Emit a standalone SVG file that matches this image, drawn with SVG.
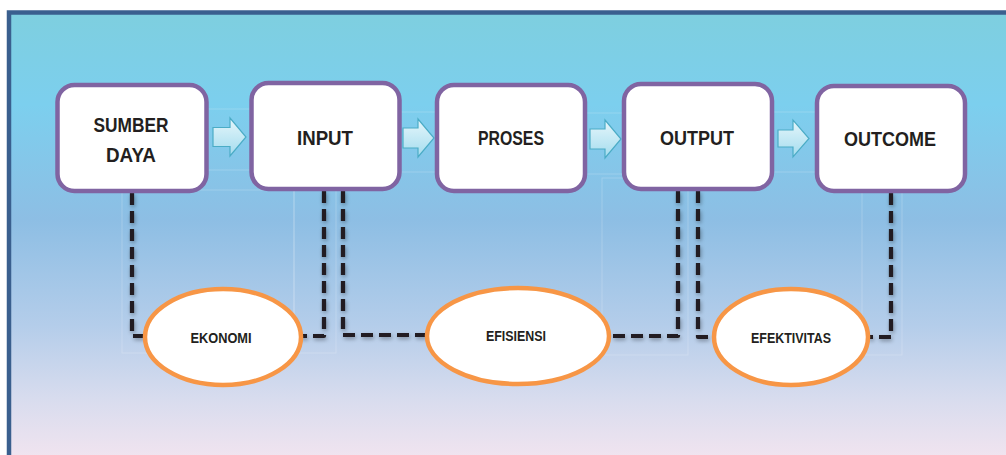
<svg xmlns="http://www.w3.org/2000/svg" width="1006" height="455" viewBox="0 0 1006 455">
<defs>
<linearGradient id="bg" x1="0" y1="0" x2="0" y2="1">
<stop offset="0" stop-color="#7ECFDF"/>
<stop offset="0.2" stop-color="#7CCFEE"/>
<stop offset="0.45" stop-color="#8DBEE4"/>
<stop offset="0.68" stop-color="#B4CDEA"/>
<stop offset="0.84" stop-color="#D8DCEE"/>
<stop offset="1" stop-color="#F7E6F0"/>
</linearGradient>
<linearGradient id="arr" x1="0" y1="0" x2="0" y2="1">
<stop offset="0" stop-color="#E6F6FB"/>
<stop offset="1" stop-color="#A3DCEE"/>
</linearGradient>
<filter id="sh" x="-20%" y="-20%" width="140%" height="140%">
<feGaussianBlur in="SourceAlpha" stdDeviation="2"/>
<feOffset dx="1" dy="2" result="b"/>
<feComponentTransfer><feFuncA type="linear" slope="0.35"/></feComponentTransfer>
<feMerge><feMergeNode/><feMergeNode in="SourceGraphic"/></feMerge>
</filter>
</defs>
<style>
.box{fill:#FFFFFF;stroke:#8064A2;stroke-width:4.5}
.ell{fill:#FFFFFF;stroke:#F79646;stroke-width:4.5}
.arrow{fill:url(#arr);stroke:#4BACC6;stroke-width:1.2}
.dash{fill:none;stroke:#231F20;stroke-width:4.2;stroke-dasharray:12 6;stroke-linejoin:round}
.faint{fill:none;stroke:#FFFFFF;stroke-opacity:0.2;stroke-width:1}
.bt{font-family:"Liberation Sans",Arial,sans-serif;font-weight:bold;font-size:21px;fill:#231F20;text-anchor:middle}
.et{font-family:"Liberation Sans",Arial,sans-serif;font-weight:bold;font-size:14.5px;fill:#231F20;text-anchor:middle}
</style>
<rect x="0" y="0" width="1006" height="455" fill="#FFFFFF"/>
<rect x="9" y="12.5" width="1010" height="460" fill="url(#bg)" stroke="#3A5F8E" stroke-width="4.5"/>
<g id="faint-frames">
<rect class="faint" x="207" y="109" width="44" height="61"/>
<rect class="faint" x="400" y="112" width="37" height="60"/>
<rect class="faint" x="586" y="113" width="37" height="61"/>
<rect class="faint" x="773" y="112" width="43" height="60"/>
<rect class="faint" x="122" y="190" width="172" height="163"/>
<rect class="faint" x="294" y="190" width="42" height="163"/>
<rect class="faint" x="602" y="178" width="86" height="177"/>
<rect class="faint" x="862" y="192" width="40" height="163"/>
</g>
<g id="arrows">
<polygon class="arrow" points="213,127.5 230,127.5 230,118 246,137 230,156 230,146.5 213,146.5"/>
<polygon class="arrow" points="403,128 418,128 418,119 434,138 418,157 418,148 403,148"/>
<polygon class="arrow" points="590,129 605,129 605,120 621,139 605,158 605,149 590,149"/>
<polygon class="arrow" points="778,130 793,130 793,120 809,138.5 793,157 793,147 778,147"/>
</g>
<g id="connectors" filter="url(#sh)">
<path class="dash" d="M132,193 V336 H146"/>
<path class="dash" d="M324,191 V336 H300"/>
<path class="dash" d="M343,191 V335 H428"/>
<path class="dash" d="M678,191 V336 H609"/>
<path class="dash" d="M698,191 V337 H714"/>
<path class="dash" d="M891,193 V337 H868"/>
</g>
<g id="node-sumber-daya">
<rect class="box" x="57.5" y="85" width="149" height="106" rx="17"/>
<text class="bt" x="131" y="132" textLength="75" lengthAdjust="spacingAndGlyphs">SUMBER</text>
<text class="bt" x="131" y="162" textLength="50" lengthAdjust="spacingAndGlyphs">DAYA</text>
</g>
<g id="node-input">
<rect class="box" x="251.5" y="83" width="148" height="106" rx="17"/>
<text class="bt" x="325" y="145" textLength="56" lengthAdjust="spacingAndGlyphs">INPUT</text>
</g>
<g id="node-proses">
<rect class="box" x="437" y="85" width="148" height="106" rx="17"/>
<text class="bt" x="511" y="145" textLength="66" lengthAdjust="spacingAndGlyphs">PROSES</text>
</g>
<g id="node-output">
<rect class="box" x="624" y="84" width="148" height="105" rx="17"/>
<text class="bt" x="697" y="145" textLength="74" lengthAdjust="spacingAndGlyphs">OUTPUT</text>
</g>
<g id="node-outcome">
<rect class="box" x="817" y="86" width="148" height="105" rx="17"/>
<text class="bt" x="890" y="146" textLength="92" lengthAdjust="spacingAndGlyphs">OUTCOME</text>
</g>
<g id="node-ekonomi">
<ellipse class="ell" cx="223" cy="337" rx="78" ry="48"/>
<text class="et" x="221" y="343" textLength="61" lengthAdjust="spacingAndGlyphs">EKONOMI</text>
</g>
<g id="node-efisiensi">
<ellipse class="ell" cx="518" cy="336" rx="91" ry="48"/>
<text class="et" x="516" y="341" textLength="60" lengthAdjust="spacingAndGlyphs">EFISIENSI</text>
</g>
<g id="node-efektivitas">
<ellipse class="ell" cx="791" cy="337" rx="77" ry="48"/>
<text class="et" x="791" y="343" textLength="80" lengthAdjust="spacingAndGlyphs">EFEKTIVITAS</text>
</g>
</svg>
